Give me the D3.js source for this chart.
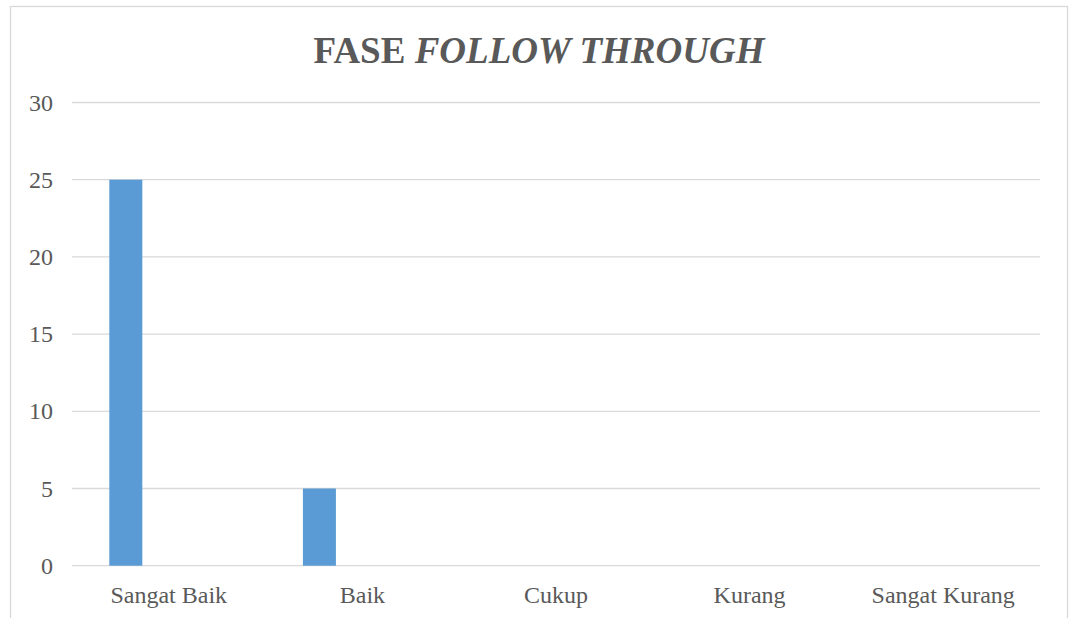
<!DOCTYPE html>
<html>
<head>
<meta charset="utf-8">
<script src="https://cdn.jsdelivr.net/npm/d3@7"></script>
<style>
html,body{margin:0;padding:0;background:#fff;}
svg{display:block;}
</style>
</head>
<body>
<svg id="chart" width="1069" height="618"></svg>
<script>
const categories = ["Sangat Baik", "Baik", "Cukup", "Kurang", "Sangat Kurang"];
const values = [25, 5, 0, 0, 0];
const yTicks = [0, 5, 10, 15, 20, 25, 30];

(function () {
const svg = d3.select("#chart");
const plotLeft = 72, plotRight = 1040, plotTop = 102.5, plotBottom = 565.7;
const font = "'Liberation Serif','Times New Roman',serif";
const textColor = "#595959";

svg.append("rect").attr("x", 10.5).attr("y", 6.5).attr("width", 1057).attr("height", 640)
  .attr("fill", "#fff").attr("stroke", "#D9D9D9").attr("stroke-width", 1.3);

const x = d3.scaleBand().domain(categories).range([plotLeft, plotRight]).padding(0);
const y = d3.scaleLinear().domain([0, 30]).range([plotBottom, plotTop]);

// gridlines
svg.append("g").selectAll("line").data(yTicks).join("line")
  .attr("x1", plotLeft).attr("x2", plotRight)
  .attr("y1", d => y(d)).attr("y2", d => y(d))
  .attr("stroke", "#D9D9D9").attr("stroke-width", 1.3);

// bars
const bw = x.bandwidth();
svg.append("g").selectAll("rect").data(categories.map((c, i) => ({c, v: values[i]}))).join("rect")
  .attr("x", d => x(d.c) + bw * 0.1927)
  .attr("width", bw * 0.1705)
  .attr("y", d => y(d.v))
  .attr("height", d => y(0) - y(d.v))
  .attr("fill", "#5B9BD5");

// y axis labels
const yAxis = d3.axisLeft(y).tickValues(yTicks).tickSize(0).tickPadding(19);
const yg = svg.append("g").attr("transform", `translate(${plotLeft},0)`).call(yAxis);
yg.select(".domain").remove();
yg.selectAll("text").attr("font-family", font).attr("font-size", 24).attr("fill", textColor);

// x axis labels
const xAxis = d3.axisBottom(x).tickSize(0).tickPadding(20);
const xg = svg.append("g").attr("transform", `translate(0,${plotBottom})`).call(xAxis);
xg.select(".domain").remove();
xg.selectAll("text").attr("font-family", font).attr("font-size", 24).attr("fill", textColor);

// title
const t = svg.append("text").attr("x", 539).attr("y", 63).attr("text-anchor", "middle")
  .attr("font-family", font).attr("font-size", 37).attr("font-weight", "bold").attr("fill", textColor);
t.append("tspan").text("FASE ");
t.append("tspan").attr("font-style", "italic").text("FOLLOW THROUGH");
})();
</script>
</body>
</html>
